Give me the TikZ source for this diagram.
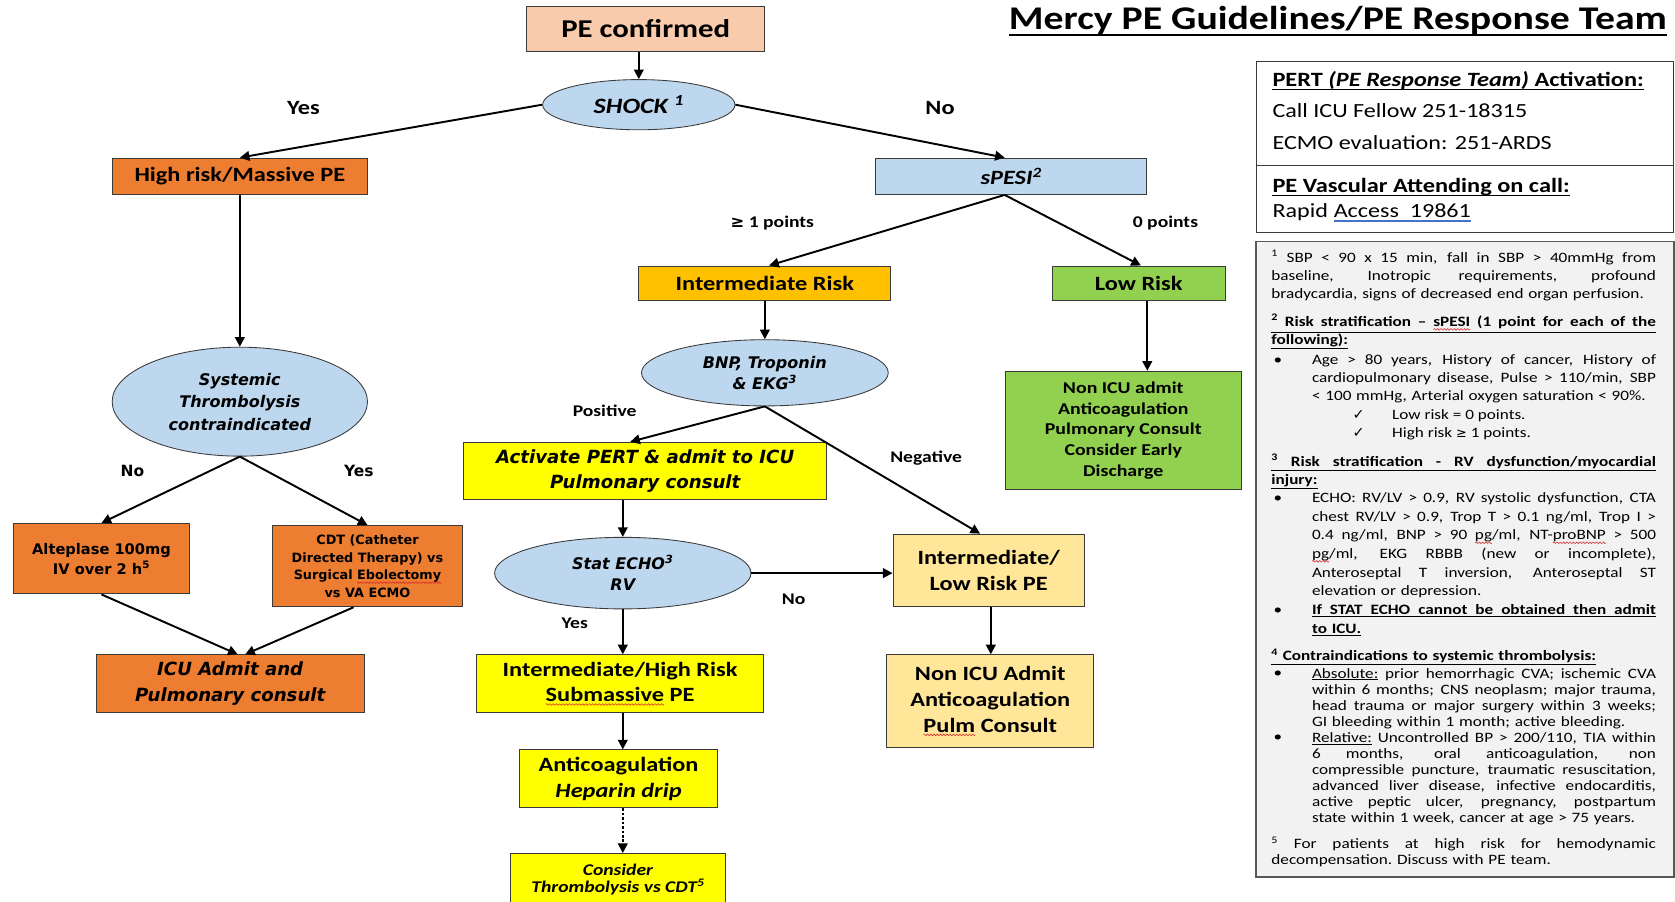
\documentclass[tikz,border=0pt]{standalone}
\usepackage{fontspec}
\usetikzlibrary{shapes.geometric,arrows.meta}
\setmainfont{Carlito}[FakeStretch=1.2]
\newfontfamily\vfont{DejaVu Sans}
\newfontfamily\dvsym{DejaVu Sans}
\definecolor{peach}{HTML}{F8CBAD}
\definecolor{skyfill}{HTML}{BDD7EE}
\definecolor{orangefill}{HTML}{ED7D31}
\definecolor{goldfill}{HTML}{FFC000}
\definecolor{greenfill}{HTML}{92D050}
\definecolor{yellowfill}{HTML}{FFFF00}
\definecolor{sandfill}{HTML}{FFE699}
\definecolor{panelgray}{HTML}{F2F2F2}
\definecolor{edge}{HTML}{3A3A3A}
\definecolor{linkblue}{HTML}{4472C4}
\definecolor{spellred}{HTML}{D82C2C}
\newcommand\fsz[2]{\fontsize{#1}{#2}\selectfont}
% full-width justified lines of the notes panel
\newcommand\ja[1]{\makebox[360pt][s]{\spaceskip=0pt\xspaceskip=0pt #1}}
\newcommand\jb[1]{\makebox[322pt][s]{\spaceskip=0pt\xspaceskip=0pt #1}}
% red wavy underline of a flagged word
\newsavebox\wavebox
\newcommand\wavy[1]{\setbox0\hbox{#1}\rlap{\raisebox{-3.6pt}{\hbox to\wd0{\xleaders\copy\wavebox\hfill}}}\box0\relax}
\begin{document}
\sbox\wavebox{\begin{pgfpicture}
  \pgfpathmoveto{\pgfpoint{0pt}{0pt}}
  \pgfpathsine{\pgfpoint{0.75pt}{0.75pt}}
  \pgfpathcosine{\pgfpoint{0.75pt}{-0.75pt}}
  \pgfpathsine{\pgfpoint{0.75pt}{-0.75pt}}
  \pgfpathcosine{\pgfpoint{0.75pt}{0.75pt}}
  \pgfsetlinewidth{0.55pt}
  \pgfsetstrokecolor{spellred}
  \pgfusepath{stroke}
  \pgfresetboundingbox
  \pgfpathrectangle{\pgfpoint{0pt}{-1pt}}{\pgfpoint{3pt}{2pt}}
  \pgfusepath{use as bounding box}
\end{pgfpicture}}
\begin{tikzpicture}[x=1pt,y=-1pt,
  box/.style={draw=edge, line width=0.9pt, inner sep=0pt, align=center},
  oval/.style={ellipse, draw=edge, line width=0.8pt, fill=skyfill, inner sep=0pt, align=center},
  arr/.style={-{Triangle[length=9pt,width=9pt]}, line width=1.8pt, black},
  lbl/.style={inner sep=0pt, font=\bfseries\fsz{15.3}{18}},
  note/.style={anchor=north west, inner sep=0pt, text width=362pt, align=left},
  bul/.style={anchor=north west, inner sep=0pt, text width=324pt, align=left},
  dot/.style={anchor=base west, inner sep=0pt},
  pline/.style={anchor=base west, inner sep=0pt}]
\useasboundingbox (0,0) rectangle (1568,844);
\fill[white] (0,0) rectangle (1568,844);

% ---------- title ----------
\node[anchor=base, inner sep=0pt, font=\bfseries\fsz{31}{36}] (title) at (1252.5,28) {Mercy PE Guidelines/PE Response Team};
\draw[line width=2pt] ([yshift=-4.5pt]title.base west) -- ([yshift=-4.5pt]title.base east);

% ---------- main column ----------
\node[box, fill=peach, minimum width=223pt, minimum height=42pt, font=\bfseries\fsz{24}{28}] (pe) at (604.5,27) {PE confirmed};
\node[oval, minimum width=180pt, minimum height=47pt, font=\bfseries\itshape\fsz{20.5}{24}] (shock) at (598,98) {SHOCK \textsuperscript{1}};

\node[box, fill=orangefill, minimum width=239pt, minimum height=34pt, font=\bfseries\fsz{19}{22}] (high) at (224.5,165) {High risk/Massive PE};
\node[box, fill=skyfill, minimum width=253pt, minimum height=34pt, font=\bfseries\itshape\fsz{19}{22}] (spesi) at (946.5,165) {sPESI\textsuperscript{2}};

\node[box, fill=goldfill, minimum width=236pt, minimum height=32pt, font=\bfseries\fsz{19}{22}] (inter) at (716,265) {Intermediate Risk};
\node[box, fill=greenfill, minimum width=162pt, minimum height=32pt, font=\bfseries\fsz{19}{22}] (low) at (1066,265) {Low Risk};

\node[oval, minimum width=231pt, minimum height=62pt, font=\vfont\bfseries\itshape\fsz{15}{20}] (bnp) at (716,349) {BNP, Troponin\\\& EKG\textsuperscript{3}};
\node[box, fill=greenfill, minimum width=221pt, minimum height=111pt, font=\bfseries\fsz{15.5}{19.5}] (green) at (1051.5,403) {Non ICU admit\\Anticoagulation\\Pulmonary Consult\\Consider Early\\Discharge};

\node[box, fill=yellowfill, minimum width=340pt, minimum height=54pt, font=\vfont\bfseries\itshape\fsz{17}{23}] (act) at (604,441) {Activate PERT \& admit to ICU\\Pulmonary consult};
\node[oval, minimum width=240pt, minimum height=67pt, font=\vfont\bfseries\itshape\fsz{15}{20}] (echo) at (583,536.5) {Stat ECHO\textsuperscript{3}\\RV};
\node[box, fill=sandfill, minimum width=179pt, minimum height=68pt, font=\bfseries\fsz{19}{24}] (ilow) at (925.5,534) {Intermediate/\\Low Risk PE};

\node[box, fill=yellowfill, minimum width=269pt, minimum height=54pt, font=\bfseries\fsz{19}{24}] (ihigh) at (580.5,640) {Intermediate/High Risk\\\wavy{Submassive} PE};
\node[box, fill=sandfill, minimum width=194pt, minimum height=87pt, font=\bfseries\fsz{19}{24}] (nonicu) at (927,656.5) {Non ICU Admit\\Anticoagulation\\\wavy{Pulm} Consult};
\node[box, fill=yellowfill, minimum width=186pt, minimum height=54pt, font=\bfseries\fsz{19}{24}] (anti) at (579,729) {Anticoagulation\\\textit{Heparin drip}};
\node[box, fill=yellowfill, minimum width=201pt, minimum height=48pt, font=\bfseries\itshape\fsz{15.3}{16}] (consider) at (578.5,823) {Consider\\Thrombolysis vs CDT\textsuperscript{5}};

% ---------- left column ----------
\node[oval, minimum width=239pt, minimum height=102pt, font=\vfont\bfseries\itshape\fsz{15}{21}] (systemic) at (224.5,376) {Systemic\\Thrombolysis\\contraindicated};
\node[box, fill=orangefill, minimum width=164pt, minimum height=66pt, font=\vfont\bfseries\fsz{13.7}{19}] (alte) at (95,523) {Alteplase 100mg\\IV over 2 h\textsuperscript{5}};
\node[box, fill=orangefill, minimum width=178pt, minimum height=76pt, font=\vfont\bfseries\fsz{12}{16.7}] (cdt) at (344,530) {CDT (Catheter\\Directed Therapy) vs\\Surgical \wavy{Ebolectomy}\\vs VA ECMO};
\node[box, fill=orangefill, minimum width=251pt, minimum height=54pt, font=\vfont\bfseries\itshape\fsz{17}{24}] (icu) at (215.5,640) {ICU Admit and\\Pulmonary consult};

% ---------- branch labels ----------
\node[lbl, font=\bfseries\fsz{19}{22}] (yes1) at (284,101) {Yes};
\node[lbl, font=\bfseries\fsz{19}{22}] (no1) at (880,101) {No};
\node[lbl] (pts1) at (723,209) {{\dvsym\bfseries ≥} 1 points};
\node[lbl] (pts0) at (1091,209) {0 points};
\node[lbl] (pos) at (566,385) {Positive};
\node[lbl] (neg) at (867,429) {Negative};
\node[lbl] (no3) at (743,561) {No};
\node[lbl] (yes3) at (538,583) {Yes};
\node[inner sep=0pt, font=\vfont\bfseries\fsz{14.5}{17}] (no2) at (124,441) {No};
\node[inner sep=0pt, font=\vfont\bfseries\fsz{14.5}{17}] (yes2) at (336,441) {Yes};

% ---------- connectors ----------
\draw[arr] (shock.north |- pe.south) -- (shock.north);
\draw[arr] (shock.west) -- (high.north);
\draw[arr] (shock.east) -- ([xshift=-6pt]spesi.north);
\draw[arr] ([xshift=-6pt]spesi.south) -- ([xshift=4pt]inter.north);
\draw[arr] ([xshift=-6pt]spesi.south) -- ([xshift=2pt]low.north);
\draw[arr] (inter) -- (bnp);
\draw[arr] ([xshift=8pt]low.south) -- ([xshift=8pt]low.south |- green.north);
\draw[arr] (bnp.south) -- ([xshift=-14pt]act.north);
\draw[arr] (bnp.south) -- ([xshift=-8pt]ilow.north);
\draw[arr] (act.south -| echo.north) -- (echo.north);
\draw[arr] (echo.east) -- (echo.east -| ilow.west);
\draw[arr] (echo.south) -- (echo.south |- ihigh.north);
\draw[arr] ([xshift=2pt]ilow.south) -- ([xshift=2pt]ilow.south |- nonicu.north);
\draw[arr] (echo.south |- ihigh.south) -- (echo.south |- anti.north);
\draw[arr, dash pattern=on 2.4pt off 1.8pt] (echo.south |- anti.south) -- (echo.south |- consider.north);

\draw[arr] (high) -- (systemic);
\draw[arr] (systemic.south) -- (alte.north);
\draw[arr] (systemic.south) -- (cdt.north);
\draw[arr] (alte.south) -- ([xshift=7pt]icu.north);
\draw[arr] ([xshift=-13pt]cdt.south) -- ([xshift=14pt]icu.north);

% ---------- PERT contact box ----------
\node[draw=edge, line width=1pt, fill=white, minimum width=391pt, minimum height=160pt, inner sep=0pt] (pert) at (1371.5,138) {};
\draw[edge, line width=1pt] ([yshift=-17pt]pert.west) -- ([yshift=-17pt]pert.east);
\node[pline, font=\bfseries\fsz{19}{22}] (pt1) at (1191,81) {PERT \textit{(PE Response Team)} Activation:};
\draw[line width=1.2pt] ([yshift=-3pt]pt1.base west) -- ([yshift=-3pt]pt1.base east);
\node[pline, font=\fsz{18.8}{22}] (pt2) at (1191,110) {Call ICU Fellow 251-18315};
\node[pline, font=\fsz{18.8}{22}] (pt3) at (1191,140) {ECMO evaluation: 251-ARDS};
\node[pline, font=\bfseries\fsz{19}{22}] (pt4) at (1191,180) {PE Vascular Attending on call:};
\draw[line width=1.2pt] ([yshift=-3pt]pt4.base west) -- ([yshift=-3pt]pt4.base east);
\node[pline, font=\fsz{18.8}{22}] (pt5) at (1191,204) {Rapid};
\node[pline, font=\fsz{18.8}{22}] (pt5b) at ([xshift=5pt]pt5.base east) {Access\ \ 19861};
\draw[linkblue, line width=1.2pt] ([yshift=-3pt]pt5b.base west) -- ([yshift=-3pt]pt5b.base east);

% ---------- footnotes ----------
\node[draw=black!65, line width=1.5pt, fill=panelgray, minimum width=391pt, minimum height=595pt, inner sep=0pt] (notes) at (1371.5,523.5) {};

\node[note, font=\fsz{13.4}{17}] (n1) at (1190,233.6) {\strut\ja{\textsuperscript{1} SBP < 90 x 15 min, fall in SBP > 40mmHg from}\\\ja{baseline, Inotropic requirements, profound}\\bradycardia, signs of decreased end organ perfusion.};

\node[note, font=\bfseries\fsz{13.4}{17}] (n2) at (1190,293.6) {\strut\underline{\ja{\textsuperscript{2} Risk stratification – \wavy{sPESI} (1 point for each of the}}\\\underline{following):}};
\node[dot, font=\fsz{13.4}{17}] (d2) at (1192,341.5) {•};
\node[bul, font=\fsz{13.4}{16.6}] (n2a) at (1228,329.6) {\strut\jb{Age > 80 years, History of cancer, History of}\\\jb{cardiopulmonary disease, Pulse > 110/min, SBP}\\< 100 mmHg, Arterial oxygen saturation < 90\%.};
\node[dot, font=\dvsym\fsz{13.4}{17}] (c1) at (1266,392.5) {✓};
\node[dot, font=\fsz{13.4}{17}] (c1t) at (1303,392.5) {Low risk = 0 points.};
\node[dot, font=\dvsym\fsz{13.4}{17}] (c2) at (1266,409.5) {✓};
\node[dot, font=\fsz{13.4}{17}] (c2t) at (1303,409.5) {High risk {\dvsym\fsz{12}{17}≥} 1 points.};

\node[note, font=\bfseries\fsz{13.4}{17}] (n3) at (1190,424.6) {\strut\underline{\ja{\textsuperscript{3} Risk stratification - RV dysfunction/myocardial}}\\\underline{injury:}};
\node[dot, font=\fsz{13.4}{17}] (d3) at (1192,470.5) {•};
\node[bul, font=\fsz{13.4}{17.4}] (n3a) at (1228,458.3) {\strut\jb{ECHO: RV/LV > 0.9, RV systolic dysfunction, CTA}\\\jb{chest RV/LV > 0.9, Trop T > 0.1 ng/ml, Trop I >}\\\jb{0.4 ng/ml, BNP > 90 \wavy{pg}/ml, NT-\wavy{proBNP} > 500}\\\jb{\wavy{pg}/ml, EKG RBBB (new or incomplete),}\\\jb{Anteroseptal T inversion, Anteroseptal ST}\\elevation or depression.};
\node[dot, font=\fsz{13.4}{17}] (d4) at (1192,575.5) {•};
\node[bul, font=\bfseries\fsz{13.4}{17}] (n3b) at (1228,563.6) {\strut\underline{\jb{If STAT ECHO cannot be obtained then admit}}\\\underline{to ICU.}};

\node[note, font=\bfseries\fsz{13.4}{15}] (n4) at (1190,607) {\strut\underline{\textsuperscript{4} Contraindications to systemic thrombolysis:}};
\node[dot, font=\fsz{13.4}{15}] (d5) at (1192,634.5) {•};
\node[bul, font=\fsz{13.4}{15}] (n4a) at (1228,624) {\strut\jb{\underline{Absolute:} prior hemorrhagic CVA; ischemic CVA}\\\jb{within 6 months; CNS neoplasm; major trauma,}\\\jb{head trauma or major surgery within 3 weeks;}\\GI bleeding within 1 month; active bleeding.};
\node[dot, font=\fsz{13.4}{15}] (d6) at (1192,694.5) {•};
\node[bul, font=\fsz{13.4}{15}] (n4b) at (1228,684) {\strut\jb{\underline{Relative:} Uncontrolled BP > 200/110, TIA within}\\\jb{6 months, oral anticoagulation, non}\\\jb{compressible puncture, traumatic resuscitation,}\\\jb{advanced liver disease, infective endocarditis,}\\\jb{active peptic ulcer, pregnancy, postpartum}\\state within 1 week, cancer at age > 75 years.};

\node[note, font=\fsz{13.4}{15}] (n5) at (1190,783) {\strut\ja{\textsuperscript{5} For patients at high risk for hemodynamic}\\decompensation.\ Discuss with PE team.};
\end{tikzpicture}
\end{document}
